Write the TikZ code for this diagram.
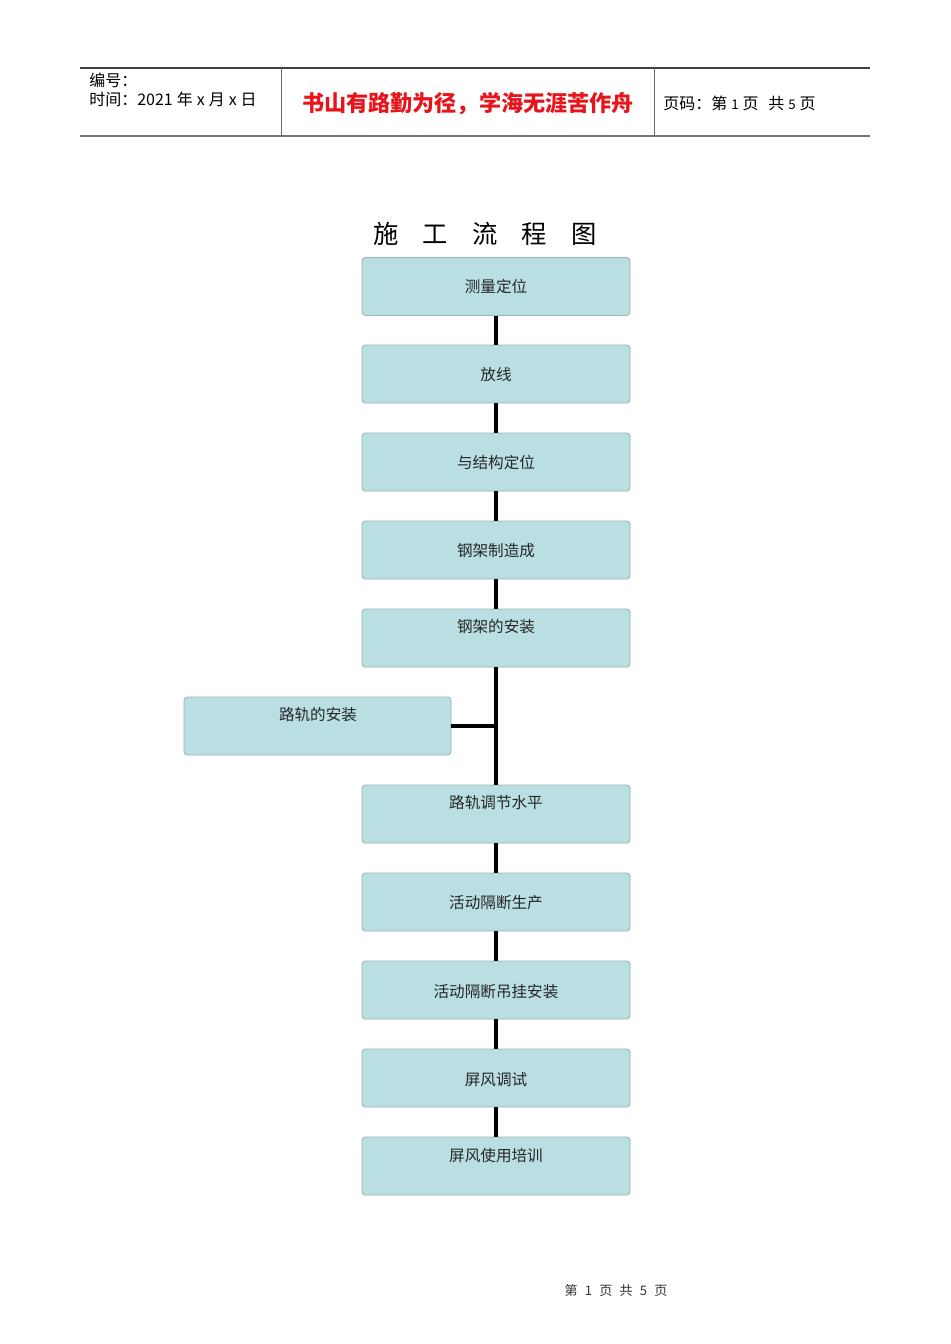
\documentclass[tikz,border=0pt]{standalone}
\usepackage{fontspec}
\setmainfont{Noto Sans CJK SC}
\begin{document}
\begin{tikzpicture}[x=0.75pt,y=-0.75pt,
  stepbox/.style={draw=boxborder, fill=boxfill, rounded corners=2.5pt, line width=0.6pt, minimum width=201pt, minimum height=43.5pt, inner sep=0pt},
  boxtxt/.style={font=\fontsize{11.7}{13}\selectfont, text=black!85, inner sep=0pt},
  conn/.style={line width=2.3pt, black},
  hdr/.style={inner sep=0pt, anchor=west, font=\fontsize{12}{13}\selectfont}]
\definecolor{boxfill}{HTML}{B9DFE2}
\definecolor{boxborder}{HTML}{9CB2B4}
\definecolor{hdrred}{HTML}{E8141B}
\useasboundingbox (0,0) rectangle (950,1344);
\fill[white] (0,0) rectangle (950,1344);
% header
\draw[line width=0.8pt, black!75] (80,68) -- (870,68);
\draw[line width=1.5pt, black!55] (80,136) -- (870,136);
\draw[line width=0.7pt, black!60] (281,68) -- (281,136);
\draw[line width=0.7pt, black!60] (654,68) -- (654,136);
\node[hdr] (h1) at (89,80) {编号：};
\node[hdr] (h2) at (89,99) {时间：2021\hspace{0.25em}年\hspace{0.25em}x\hspace{0.25em}月\hspace{0.25em}x\hspace{0.25em}日};
\node[inner sep=0pt, text=hdrred, font=\fontsize{16.6}{18}\selectfont\bfseries] (h3) at (468,104) {书山有路勤为径，学海无涯苦作舟};
\node[hdr] (h4) at (663,103) {页码：第\hspace{0.25em}{\fontsize{10}{12}\selectfont 1}\hspace{0.25em}页\hspace{0.6em}共\hspace{0.25em}{\fontsize{10}{12}\selectfont 5}\hspace{0.25em}页};
% title
\node[inner sep=0pt, font=\fontsize{19}{21}\selectfont] (title) at (485,234) {施\hspace{0.95em}工\hspace{0.95em}流\hspace{0.95em}程\hspace{0.95em}图};
% boxes
\node[stepbox] (b1) at (496,286.5) {};
\node[stepbox] (b2) at (496,374) {};
\node[stepbox] (b3) at (496,462) {};
\node[stepbox] (b4) at (496,550) {};
\node[stepbox] (b5) at (496,638) {};
\node[stepbox, minimum width=200.25pt] (bs) at (317.5,726) {};
\node[stepbox] (b6) at (496,814) {};
\node[stepbox] (b7) at (496,902) {};
\node[stepbox] (b8) at (496,990) {};
\node[stepbox] (b9) at (496,1078) {};
\node[stepbox] (b10) at (496,1166) {};
% connectors
\draw[conn] (b1.south) -- (b2.north);
\draw[conn] (b2.south) -- (b3.north);
\draw[conn] (b3.south) -- (b4.north);
\draw[conn] (b4.south) -- (b5.north);
\draw[conn] (b5.south) -- (b6.north);
\coordinate (j) at (b5.south |- bs.east);
\draw[conn] (bs.east) -- (j);
\draw[conn] (b6.south) -- (b7.north);
\draw[conn] (b7.south) -- (b8.north);
\draw[conn] (b8.south) -- (b9.north);
\draw[conn] (b9.south) -- (b10.north);
% texts
\node[boxtxt] (t1) at (496,287) {测量定位};
\node[boxtxt] (t2) at (496,375) {放线};
\node[boxtxt] (t3) at (496,463) {与结构定位};
\node[boxtxt] (t4) at (496,551) {钢架制造成};
\node[boxtxt] (t5) at (496,627) {钢架的安装};
\node[boxtxt] (ts) at (318,715) {路轨的安装};
\node[boxtxt] (t6) at (496,803) {路轨调节水平};
\node[boxtxt] (t7) at (496,903) {活动隔断生产};
\node[boxtxt] (t8) at (496,992) {活动隔断吊挂安装};
\node[boxtxt] (t9) at (496,1080) {屏风调试};
\node[boxtxt] (t10) at (496,1156) {屏风使用培训};
% footer
\node[inner sep=0pt, font=\fontsize{9.8}{11}\selectfont, text=black!80] (foot) at (616,1291) {第\hspace{0.55em}1\hspace{0.55em}页\hspace{0.55em}共\hspace{0.55em}5\hspace{0.55em}页};
\end{tikzpicture}
\end{document}
